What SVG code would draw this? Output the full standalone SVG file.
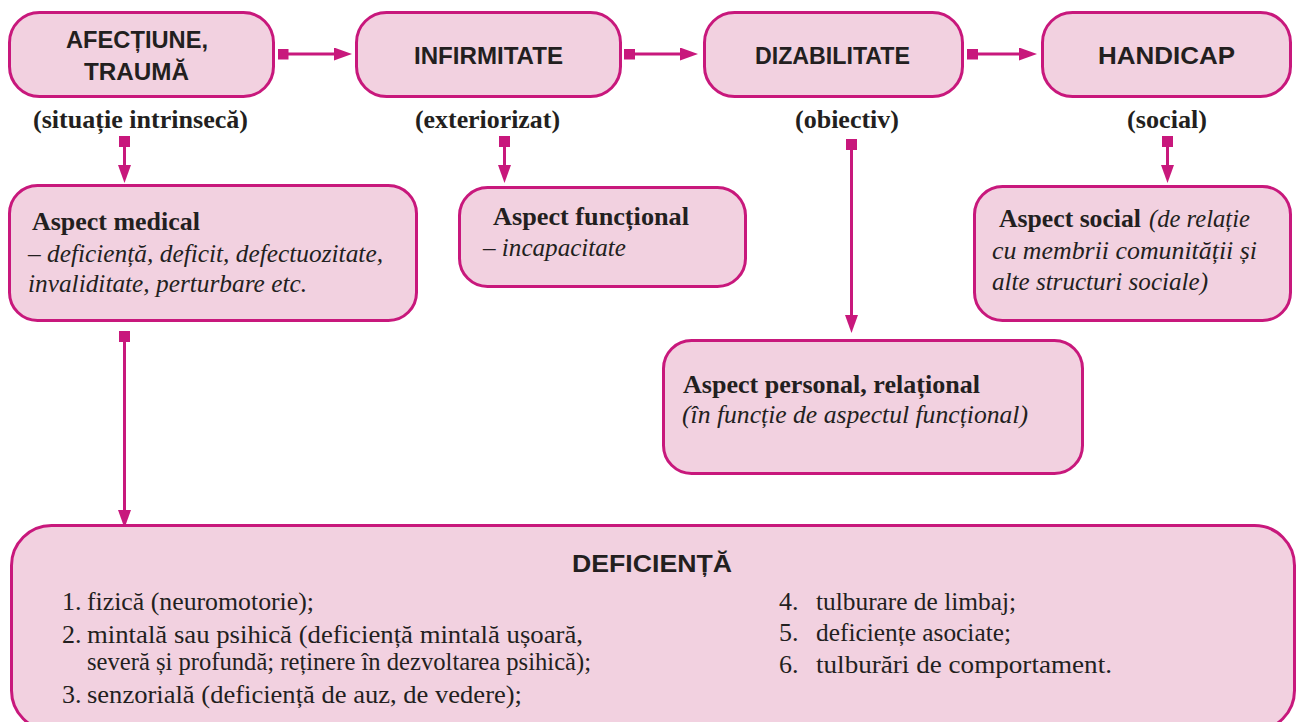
<svg xmlns="http://www.w3.org/2000/svg" width="1300" height="722" viewBox="0 0 1300 722">
<style>
.box{fill:#f2d1e0;stroke:#c8187c;stroke-width:3}
.hd{font-family:"Liberation Sans",Arial,sans-serif;font-weight:bold;font-size:24.5px;fill:#231f20}
.lb{font-family:"Liberation Serif","Times New Roman",serif;font-weight:bold;font-size:26px;fill:#231f20}
.bt{font-family:"Liberation Serif","Times New Roman",serif;font-weight:bold;font-size:26px;fill:#231f20}
.it{font-family:"Liberation Serif","Times New Roman",serif;font-style:italic;font-size:25px;fill:#231f20}
.rg{font-family:"Liberation Serif","Times New Roman",serif;font-size:26px;fill:#231f20}
.cn{fill:none;stroke:#c8187c;stroke-width:3;marker-start:url(#sq);marker-end:url(#ar)}
</style>
<defs>
<marker id="ar" markerUnits="userSpaceOnUse" markerWidth="18" markerHeight="13" refX="8" refY="6.5" orient="auto">
<path d="M0,0 L18,6.5 L0,13 z" fill="#c8187c"/>
</marker>
<marker id="sq" markerUnits="userSpaceOnUse" markerWidth="11" markerHeight="11" refX="5.5" refY="5.5" orient="auto">
<rect x="0" y="0" width="11" height="11" fill="#c8187c"/>
</marker>
</defs>
<rect width="1300" height="722" fill="#ffffff"/>

<g id="connectors">
<path class="cn" d="M283,54 H342"/>
<path class="cn" d="M629.5,54 H688"/>
<path class="cn" d="M972.5,54 H1027"/>
<path class="cn" d="M124.5,141.5 V173"/>
<path class="cn" d="M504.5,141.5 V173"/>
<path class="cn" d="M851.5,144.5 V323"/>
<path class="cn" d="M1167.5,141.5 V173"/>
<path class="cn" d="M124.5,336.5 V518"/>
</g>

<g id="n-afectiune">
<rect class="box" x="9.5" y="12.5" width="264" height="84" rx="30"/>
<text class="hd" x="66" y="48" textLength="142" lengthAdjust="spacingAndGlyphs">AFECȚIUNE,</text>
<text class="hd" x="84" y="80" textLength="105" lengthAdjust="spacingAndGlyphs">TRAUMĂ</text>
<text class="lb" x="33" y="128" textLength="215" lengthAdjust="spacingAndGlyphs">(situație intrinsecă)</text>
</g>

<g id="n-infirmitate">
<rect class="box" x="356.5" y="12.5" width="264" height="84" rx="30"/>
<text class="hd" x="414" y="64" textLength="149" lengthAdjust="spacingAndGlyphs">INFIRMITATE</text>
<text class="lb" x="415" y="128" textLength="145" lengthAdjust="spacingAndGlyphs">(exteriorizat)</text>
</g>

<g id="n-dizabilitate">
<rect class="box" x="704.5" y="12.5" width="258" height="84" rx="30"/>
<text class="hd" x="755" y="64" textLength="155" lengthAdjust="spacingAndGlyphs">DIZABILITATE</text>
<text class="lb" x="795" y="128" textLength="104" lengthAdjust="spacingAndGlyphs">(obiectiv)</text>
</g>

<g id="n-handicap">
<rect class="box" x="1042.5" y="12.5" width="248" height="84" rx="30"/>
<text class="hd" x="1098" y="64" textLength="137" lengthAdjust="spacingAndGlyphs">HANDICAP</text>
<text class="lb" x="1127" y="128" textLength="80" lengthAdjust="spacingAndGlyphs">(social)</text>
</g>

<g id="n-medical">
<rect class="box" x="9.5" y="185.5" width="407" height="135" rx="28"/>
<text class="bt" x="32" y="230" textLength="168" lengthAdjust="spacingAndGlyphs">Aspect medical</text>
<text class="it" x="28" y="262" textLength="355" lengthAdjust="spacingAndGlyphs">– deficiență, deficit, defectuozitate,</text>
<text class="it" x="28" y="292" textLength="279" lengthAdjust="spacingAndGlyphs">invaliditate, perturbare etc.</text>
</g>

<g id="n-functional">
<rect class="box" x="459.5" y="187.5" width="286" height="99" rx="28"/>
<text class="bt" x="493" y="225" textLength="196" lengthAdjust="spacingAndGlyphs">Aspect funcțional</text>
<text class="it" x="483" y="256" textLength="143" lengthAdjust="spacingAndGlyphs">– incapacitate</text>
</g>

<g id="n-personal">
<rect class="box" x="663.5" y="340.5" width="419" height="133" rx="28"/>
<text class="bt" x="683" y="393" textLength="297" lengthAdjust="spacingAndGlyphs">Aspect personal, relațional</text>
<text class="it" x="682" y="423" textLength="346" lengthAdjust="spacingAndGlyphs">(în funcție de aspectul funcțional)</text>
</g>

<g id="n-social">
<rect class="box" x="974.5" y="186.5" width="316" height="134" rx="28"/>
<text class="bt" x="999" y="227" textLength="142" lengthAdjust="spacingAndGlyphs">Aspect social</text>
<text class="it" x="1149" y="227" textLength="101" lengthAdjust="spacingAndGlyphs">(de relație</text>
<text class="it" x="992" y="259" textLength="265" lengthAdjust="spacingAndGlyphs">cu membrii comunității și</text>
<text class="it" x="992" y="290" textLength="216" lengthAdjust="spacingAndGlyphs">alte structuri sociale)</text>
</g>

<g id="n-deficienta">
<rect class="box" x="11.5" y="525.5" width="1283" height="205" rx="40"/>
<text class="hd" x="652" y="572" text-anchor="middle" textLength="160" lengthAdjust="spacingAndGlyphs">DEFICIENȚĂ</text>
<text class="rg" x="62" y="610">1.</text>
<text class="rg" x="87" y="610" textLength="227" lengthAdjust="spacingAndGlyphs">fizică (neuromotorie);</text>
<text class="rg" x="62" y="643">2.</text>
<text class="rg" x="87" y="643" textLength="496" lengthAdjust="spacingAndGlyphs">mintală sau psihică (deficiență mintală ușoară,</text>
<text class="rg" x="87" y="670" textLength="504" lengthAdjust="spacingAndGlyphs">severă și profundă; reținere în dezvoltarea psihică);</text>
<text class="rg" x="62" y="703">3.</text>
<text class="rg" x="87" y="703" textLength="435" lengthAdjust="spacingAndGlyphs">senzorială (deficiență de auz, de vedere);</text>
<text class="rg" x="779" y="610">4.</text>
<text class="rg" x="816" y="610" textLength="200" lengthAdjust="spacingAndGlyphs">tulburare de limbaj;</text>
<text class="rg" x="779" y="641">5.</text>
<text class="rg" x="816" y="641" textLength="195" lengthAdjust="spacingAndGlyphs">deficiențe asociate;</text>
<text class="rg" x="779" y="673">6.</text>
<text class="rg" x="816" y="673" textLength="296" lengthAdjust="spacingAndGlyphs">tulburări de comportament.</text>
</g>
</svg>
